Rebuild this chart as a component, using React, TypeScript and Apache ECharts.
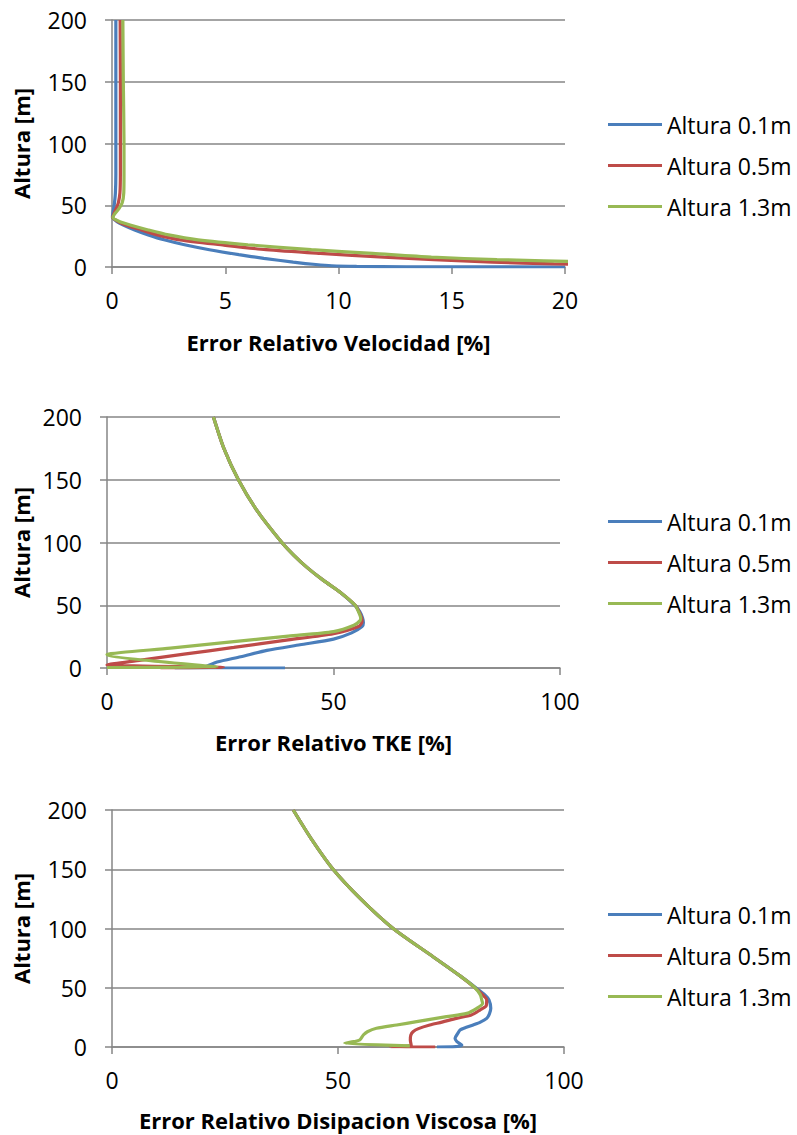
import React, { useEffect, useRef } from "react";
import * as echarts from "echarts";

const seriesNames = ["Altura 0.1m", "Altura 0.5m", "Altura 1.3m"];
const seriesColors = ["#4A7EBB", "#BE4B48", "#98B954"];

const yTicks = { min: 0, max: 200, interval: 50 };

// Chart 1: Error Relativo Velocidad [%]
const velH01 = [200, 150, 100, 75, 60, 52, 47, 43, 40, 37, 34, 30, 26, 22, 18, 14, 10, 7, 4, 2, 1, 0.5, 0.2, 0];
const velE01 = [0.17, 0.17, 0.17, 0.17, 0.15, 0.11, 0.07, 0.03, 0.02, 0.2, 0.5, 1.0, 1.6, 2.3, 3.2, 4.3, 5.6, 6.7, 8.0, 9.0, 9.7, 10.8, 13, 20];
const velH05 = [200, 150, 100, 75, 60, 52, 47, 43, 40, 37, 34, 30, 26, 22, 18, 14, 11, 8, 6, 4, 2.5, 1.5];
const velE05 = [0.36, 0.37, 0.37, 0.37, 0.35, 0.28, 0.18, 0.08, 0.03, 0.25, 0.6, 1.3, 2.0, 3.0, 4.8, 6.8, 9.2, 12, 14.2, 16.8, 19.5, 22];
const velH13 = [200, 150, 100, 75, 60, 52, 47, 43, 40, 37, 34, 30, 26, 22, 18, 14, 11, 8, 6, 4];
const velE13 = [0.48, 0.5, 0.53, 0.53, 0.52, 0.45, 0.3, 0.12, 0.04, 0.3, 0.8, 1.6, 2.5, 3.8, 6.0, 8.8, 11.5, 14.1, 17.0, 21.5];

// Chart 2: Error Relativo TKE [%]
const tkeH01 = [200, 175, 150, 125, 100, 90, 80, 70, 60, 50, 45, 40, 36, 33, 28, 23, 18.5, 14, 9, 4.8, 0.8, 0.1, 0];
const tkeE01 = [23.5, 25.8, 29, 33.2, 38.6, 41.2, 44.2, 47.7, 51.6, 54.7, 55.8, 56.4, 56.6, 56.3, 54, 50, 42.6, 35.3, 29.5, 24.3, 21.3, 15, 39.3];
const tkeH05 = [200, 175, 150, 125, 100, 90, 80, 70, 60, 50, 45, 40, 37, 33, 27.3, 22.4, 16.4, 11, 6.3, 2.6, 0.4, 0];
const tkeE05 = [23.5, 25.8, 29, 33.2, 38.6, 41.2, 44.2, 47.7, 51.6, 54.8, 55.6, 56.2, 56.3, 55.5, 50, 40, 28, 17, 7.5, 0, 25.7, 11.8];
const tkeH13 = [200, 175, 150, 125, 100, 90, 80, 70, 60, 50, 45, 40, 38, 34, 29, 25.4, 21, 15.8, 10.6, 0.8, 0.4];
const tkeE13 = [23.5, 25.8, 29, 33.2, 38.6, 41.2, 44.2, 47.7, 51.6, 54.8, 55.5, 56, 55.9, 54.5, 50, 40, 28, 14, 0, 24.3, 0];

// Chart 3: Error Relativo Disipacion Viscosa [%]
const disH01 = [200, 175, 150, 125, 100, 76, 60, 50, 44, 39.7, 32.6, 28, 24.2, 21, 18.6, 16, 14.3, 11.5, 7.3, 4.5, 1.7, 0.3, 0];
const disE01 = [40.1, 44.2, 48.9, 55.0, 62.2, 71.1, 77, 80.5, 82.5, 83.4, 83.8, 83.5, 82.9, 81.5, 79.9, 78, 77, 76.5, 75.9, 76.3, 77.4, 76, 71.9];
const disH05 = [200, 175, 150, 125, 100, 76, 60, 50, 44, 39.7, 35, 31.2, 27, 24.2, 21, 18.6, 15.5, 12.9, 10, 6, 1.5, 0.3, 0];
const disE05 = [40.1, 44.2, 48.9, 55.0, 62.2, 71.1, 77, 80.3, 82.0, 82.9, 82.8, 81.4, 79.5, 76.2, 73, 70.3, 67.8, 66.6, 66.1, 66, 66.2, 61.5, 71.5];
const disH13 = [200, 175, 150, 125, 100, 76, 60, 50, 44, 39.7, 36.9, 32.6, 28.4, 25.6, 21.4, 18.6, 15.8, 12.9, 10.1, 5.9, 4.5, 3.1, 1.0];
const disE13 = [40.1, 44.2, 48.9, 55.0, 62.2, 71.1, 77, 80.3, 81.5, 81.8, 82, 80.7, 78.5, 74, 67.4, 63, 58.5, 56.5, 55.6, 54.8, 53.5, 51.5, 65.9];

const xTitles = [
  "Error Relativo Velocidad [%]",
  "Error Relativo TKE [%]",
  "Error Relativo Disipacion Viscosa [%]",
];
const yTitle = "Altura [m]";
const xRanges = [
  { min: 0, max: 20, interval: 5 },
  { min: 0, max: 100, interval: 50 },
  { min: 0, max: 100, interval: 50 },
];

const chartData = [
  [[velH01, velE01], [velH05, velE05], [velH13, velE13]],
  [[tkeH01, tkeE01], [tkeH05, tkeE05], [tkeH13, tkeE13]],
  [[disH01, disE01], [disH05, disE05], [disH13, disE13]],
];

// layout (pixels)
const grids = [
  { left: 112, top: 20, width: 453, height: 247 },
  { left: 107, top: 417, width: 453, height: 251 },
  { left: 112, top: 810, width: 452, height: 237 },
];
const titleOffsets = [75, 74, 73];
const legendTops = [113, 510, 903];
const FONT = "'Open Sans'";
const FS = 23;
const TITLE_FS = 22;
const AXIS_GRAY = "#868686";

export default function App() {
  const ref = useRef<HTMLDivElement>(null);
  useEffect(() => {
    if (!ref.current) return;
    const chart = echarts.init(ref.current, undefined, { renderer: "svg" });
    const xAxis: any[] = [];
    const yAxis: any[] = [];
    const series: any[] = [];
    const legend: any[] = [];
    const graphic: any[] = [];
    grids.forEach((g, i) => {
      xAxis.push({
        type: "value",
        gridIndex: i,
        min: xRanges[i].min,
        max: xRanges[i].max,
        interval: xRanges[i].interval,
        axisLine: { show: true, lineStyle: { color: AXIS_GRAY, width: 1.5 } },
        axisTick: { show: true, length: 7, lineStyle: { color: AXIS_GRAY, width: 1.5 } },
        splitLine: { show: false },
        axisLabel: { color: "#000", fontFamily: FONT, fontSize: FS, margin: 21 },
      });
      yAxis.push({
        type: "value",
        gridIndex: i,
        min: yTicks.min,
        max: yTicks.max,
        interval: yTicks.interval,
        axisLine: { show: true, lineStyle: { color: AXIS_GRAY, width: 1.5 } },
        axisTick: { show: true, length: 7, lineStyle: { color: AXIS_GRAY, width: 1.5 } },
        splitLine: { show: true, lineStyle: { color: AXIS_GRAY, width: 1.5 } },
        axisLabel: { color: "#000", fontFamily: FONT, fontSize: FS, margin: 25 },
      });
      chartData[i].forEach((pair, k) => {
        const [hs, es] = pair;
        series.push({
          type: "line",
          name: seriesNames[k],
          xAxisIndex: i,
          yAxisIndex: i,
          data: hs.map((h, j) => [es[j], h]),
          showSymbol: false,
          smooth: 0.25,
          lineStyle: { color: seriesColors[k], width: 3.2 },
          itemStyle: { color: seriesColors[k] },
          clip: true,
        });
      });
      legend.push({
        orient: "vertical",
        left: 608,
        top: legendTops[i],
        icon: "rect",
        itemWidth: 54,
        itemHeight: 3,
        itemGap: 18,
        padding: 0,
        data: seriesNames,
        textStyle: { color: "#000", fontFamily: FONT, fontSize: FS, lineHeight: 22 },
      });
      graphic.push({
        type: "text",
        x: g.left + g.width / 2,
        y: g.top + g.height + titleOffsets[i],
        style: {
          text: xTitles[i],
          font: `bold ${TITLE_FS}px ${FONT}`,
          fill: "#000",
          textAlign: "center",
          textVerticalAlign: "middle",
        },
      });
      graphic.push({
        type: "text",
        x: 21,
        y: g.top + g.height / 2,
        rotation: Math.PI / 2,
        style: {
          text: yTitle,
          font: `bold ${TITLE_FS}px ${FONT}`,
          fill: "#000",
          textAlign: "center",
          textVerticalAlign: "middle",
        },
      });
    });
    chart.setOption({
      animation: false,
      backgroundColor: "#fff",
      grid: grids.map((g) => ({ ...g, containLabel: false })),
      xAxis,
      yAxis,
      series,
      legend,
      graphic,
    });
    return () => chart.dispose();
  }, []);
  return (
    <div
      ref={ref}
      style={{ position: "absolute", left: 0, top: 0, width: 797, height: 1135 }}
    />
  );
}
